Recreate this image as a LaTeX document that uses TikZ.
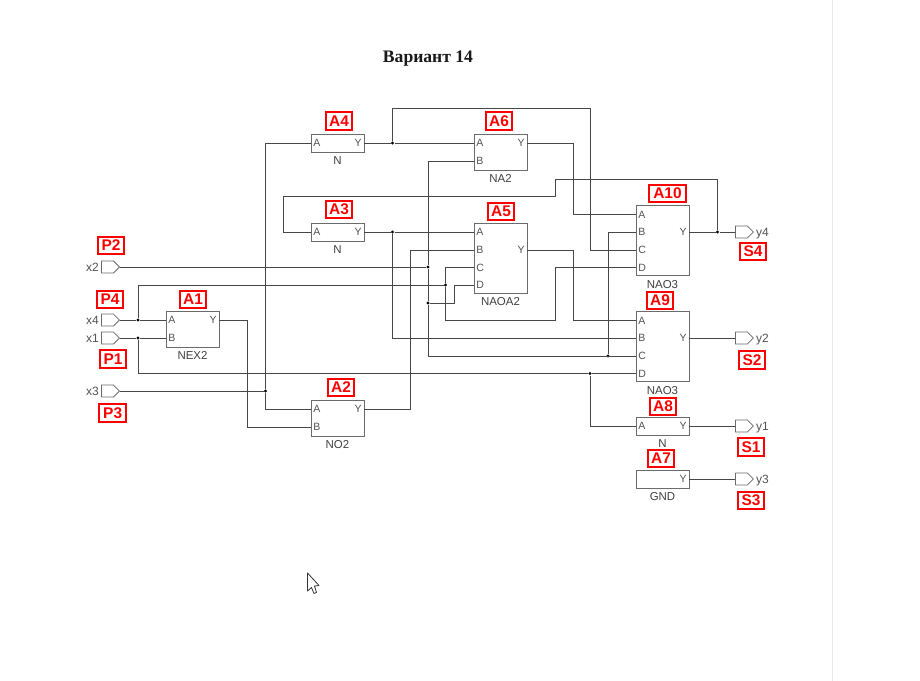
\documentclass[tikz,border=0pt]{standalone}
\usepackage{fontspec}
\setmainfont{Liberation Sans}
\newfontfamily\titlefont{Liberation Serif}
\usetikzlibrary{shapes.symbols,positioning}

\begin{document}
\begin{tikzpicture}[x=0.75pt, y=-0.75pt, align=center, node distance=3pt]
    \tikzset{
        block/.style    =   { rectangle
                            , draw=black!58
                            , line width=0.6pt
                            , minimum width=39.75pt
                            , inner sep=0pt
        }
        , pinname/.style =  { font=\fontsize{7.9pt}{8pt}\selectfont
                            , text=black!68
                            , inner sep=1.5pt
        }
        , cellname/.style = { font=\fontsize{8.6pt}{9pt}\selectfont
                            , text=black!75
                            , inner sep=0pt
        }
        , portname/.style = { font=\fontsize{9pt}{9pt}\selectfont
                            , text=black!68
                            , text depth=0pt
                            , inner sep=1.5pt
        }
        , tag/.style    =   { rectangle
                            , draw=red
                            , line width=1.5pt
                            , text=red
                            , font=\fontsize{11.6pt}{13pt}\selectfont\bfseries
                            , minimum width=20pt
                            , minimum height=13.2pt
                            , inner sep=0pt
        }
        , port/.style   =   { signal
                            , signal to=east
                            , draw=black!58
                            , line width=0.6pt
                            , minimum width=13.5pt
                            , minimum height=9pt
                            , inner sep=0pt
        }
        , wire/.style   =   { draw=black!72
                            , line width=0.72pt
        }
        , joint/.style  =   { circle
                            , fill=black
                            , minimum size=2.6pt
                            , inner sep=0pt
        }
    }
    \useasboundingbox (0,0) rectangle (920,681);
    \fill[white] (0,0) rectangle (920,681);
    \draw[black!9, line width=0.75pt] (832.5,0) -- (832.5,681);

    \node(title)[font=\titlefont\fontsize{13.2pt}{14pt}\selectfont\bfseries, text=black!90] at (428,59) {Вариант 14};

    % inputs
    \node(x2)[port, anchor=east] at (120,267) {};
    \node(x4)[port, anchor=east] at (120,320) {};
    \node(x1)[port, anchor=east] at (120,338) {};
    \node(x3)[port, anchor=east] at (120,391) {};
    \node(x2n)[portname, left=0pt of x2] {x2};
    \node(x4n)[portname, left=0pt of x4] {x4};
    \node(x1n)[portname, left=0pt of x1] {x1};
    \node(x3n)[portname, left=0pt of x3] {x3};

    % outputs
    \node(y4)[port, anchor=west] at (735,232) {};
    \node(y2)[port, anchor=west] at (735,338) {};
    \node(y1)[port, anchor=west] at (735,426) {};
    \node(y3)[port, anchor=west] at (735,479) {};
    \node(y4n)[portname, right=0pt of y4] {y4};
    \node(y2n)[portname, right=0pt of y2] {y2};
    \node(y1n)[portname, right=0pt of y1] {y1};
    \node(y3n)[portname, right=0pt of y3] {y3};

    % cells
    \node(a1)[block, minimum height=27pt] at (192.5,329) {};
    \node(a2)[block, minimum height=27pt] at (337.5,418) {};
    \node(a3)[block, minimum height=13.5pt] at (337.5,232) {};
    \node(a4)[block, minimum height=13.5pt] at (337.5,143) {};
    \node(a5)[block, minimum height=52.5pt] at (500.5,258) {};
    \node(a6)[block, minimum height=27pt] at (500.5,152) {};
    \node(a7)[block, minimum height=13.5pt] at (662.5,479) {};
    \node(a8)[block, minimum height=13.5pt] at (662.5,426) {};
    \node(a9)[block, minimum height=53pt] at (662.5,346.5) {};
    \node(a10)[block, minimum height=53pt] at (662.5,240.5) {};

    \node(a1n)[cellname, below=of a1] {NEX2};
    \node(a2n)[cellname, below=of a2] {NO2};
    \node(a3n)[cellname, below=of a3] {N};
    \node(a4n)[cellname, below=of a4] {N};
    \node(a5n)[cellname, below=of a5] {NAOA2};
    \node(a6n)[cellname, below=of a6] {NA2};
    \node(a7n)[cellname, below=of a7] {GND};
    \node(a8n)[cellname, below=of a8] {N};
    \node(a9n)[cellname, below=of a9] {NAO3};
    \node(a10n)[cellname, below=of a10] {NAO3};

    % pins
    \node(a1A)[pinname, anchor=west] at (166,320) {A};
    \node(a1B)[pinname, anchor=west] at (166,338) {B};
    \node(a1Y)[pinname, anchor=east] at (219,320) {Y};
    \node(a2A)[pinname, anchor=west] at (311,409) {A};
    \node(a2B)[pinname, anchor=west] at (311,427) {B};
    \node(a2Y)[pinname, anchor=east] at (364,409) {Y};
    \node(a3A)[pinname, anchor=west] at (311,232) {A};
    \node(a3Y)[pinname, anchor=east] at (364,232) {Y};
    \node(a4A)[pinname, anchor=west] at (311,143) {A};
    \node(a4Y)[pinname, anchor=east] at (364,143) {Y};
    \node(a5A)[pinname, anchor=west] at (474,232) {A};
    \node(a5B)[pinname, anchor=west] at (474,250) {B};
    \node(a5C)[pinname, anchor=west] at (474,267.5) {C};
    \node(a5D)[pinname, anchor=west] at (474,285) {D};
    \node(a5Y)[pinname, anchor=east] at (527,250) {Y};
    \node(a6A)[pinname, anchor=west] at (474,143) {A};
    \node(a6B)[pinname, anchor=west] at (474,161) {B};
    \node(a6Y)[pinname, anchor=east] at (527,143) {Y};
    \node(a7Y)[pinname, anchor=east] at (689,479) {Y};
    \node(a8A)[pinname, anchor=west] at (636,426) {A};
    \node(a8Y)[pinname, anchor=east] at (689,426) {Y};
    \node(a9A)[pinname, anchor=west] at (636,320.5) {A};
    \node(a9B)[pinname, anchor=west] at (636,338) {B};
    \node(a9C)[pinname, anchor=west] at (636,356) {C};
    \node(a9D)[pinname, anchor=west] at (636,373.5) {D};
    \node(a9Y)[pinname, anchor=east] at (689,338) {Y};
    \node(a10A)[pinname, anchor=west] at (636,214.5) {A};
    \node(a10B)[pinname, anchor=west] at (636,232) {B};
    \node(a10C)[pinname, anchor=west] at (636,250) {C};
    \node(a10D)[pinname, anchor=west] at (636,267.5) {D};
    \node(a10Y)[pinname, anchor=east] at (689,232) {Y};

    % junctions
    \node(j4)[joint] at (138,320) {};
    \node(j1)[joint] at (138,338) {};
    \node(j3)[joint] at (265.5,391) {};
    \node(j5)[joint] at (392.5,143) {};
    \node(j6)[joint] at (392.5,232) {};
    \node(j7)[joint] at (428,267) {};
    \node(j8)[joint] at (428,303) {};
    \node(j9)[joint] at (445.5,285) {};
    \node(j10)[joint] at (608,356) {};
    \node(j11)[joint] at (590,373.5) {};
    \node(j12)[joint] at (717.5,232) {};

    \coordinate(c1) at (590,108);
    \coordinate(c2) at (555,320);
    \coordinate(c3) at (555,196.5);
    \coordinate(c4) at (717.5,179);

    % wires
    \draw[wire] (x4.east) -- (j4) -- (a1A.west);
    \draw[wire] (x1.east) -- (j1) -- (a1B.west);
    \draw[wire] (x2.east) -- (j7);
    \draw[wire] (x3.east) -- (j3);
    \draw[wire] (a1Y.east) -- ++(28.5,0) |- (a2B.west);
    \draw[wire] (a4A.west) -| (j3) |- (a2A.west);
    \draw[wire] (a4Y.east) -- (j5) -- (a6A.west);
    \draw[wire] (j5) |- (c1) |- (a10C.west);
    \draw[wire] (a6Y.east) -- ++(46,0) |- (a10A.west);
    \draw[wire] (a3Y.east) -- (j6) -- (a5A.west);
    \draw[wire] (j6) |- (a9B.west);
    \draw[wire] (a3A.west) -- ++(-28,0) |- (c3) |- (c4) -- (j12);
    \draw[wire] (a2Y.east) -- ++(46,0) |- (a5B.west);
    \draw[wire] (a6B.west) -| (j7) -- (j8) |- (a9C.west);
    \draw[wire] (j8) -- ++(26,0) |- (a5D.west);
    \draw[wire] (j4) |- (j9);
    \draw[wire] (a5C.west) -| (j9) |- (c2) |- (a10D.west);
    \draw[wire] (a5Y.east) -- ++(46,0) |- (a9A.west);
    \draw[wire] (a10B.west) -| (j10);
    \draw[wire] (j1) |- (j11) -- (a9D.west);
    \draw[wire] (j11) |- (a8A.west);
    \draw[wire] (a10Y.east) -- (j12) -- (y4.west);
    \draw[wire] (a9Y.east) -- (y2.west);
    \draw[wire] (a8Y.east) -- (y1.west);
    \draw[wire] (a7Y.east) -- (y3.west);

    % red marks
    \node(P2)[tag] at (111,245.5) {P2};
    \node(P4)[tag] at (110,299.5) {P4};
    \node(P1)[tag] at (113,359) {P1};
    \node(P3)[tag] at (112.7,413) {P3};
    \node(A1)[tag] at (193,299.5) {A1};
    \node(A2)[tag] at (341,387.5) {A2};
    \node(A3)[tag] at (339,209.3) {A3};
    \node(A4)[tag] at (339,121.3) {A4};
    \node(A5)[tag] at (501,211.3) {A5};
    \node(A6)[tag] at (499,121.3) {A6};
    \node(A7)[tag] at (661,458.5) {A7};
    \node(A8)[tag] at (663,406.5) {A8};
    \node(A9)[tag] at (660,300.5) {A9};
    \node(A10)[tag, minimum width=28pt] at (667.5,193.5) {A10};
    \node(S4)[tag] at (753,251.5) {S4};
    \node(S2)[tag] at (752,359.7) {S2};
    \node(S1)[tag] at (751,447) {S1};
    \node(S3)[tag] at (751,500.5) {S3};

    % mouse pointer
    \draw[black!80, fill=white, line width=0.6pt, line join=round]
        (307.5,573) -- (307.5,591) -- (311.5,587.5) -- (314,593.5) -- (316.5,592.5)
        -- (314.5,586) -- (319,585.5) -- cycle;
\end{tikzpicture}
\end{document}
